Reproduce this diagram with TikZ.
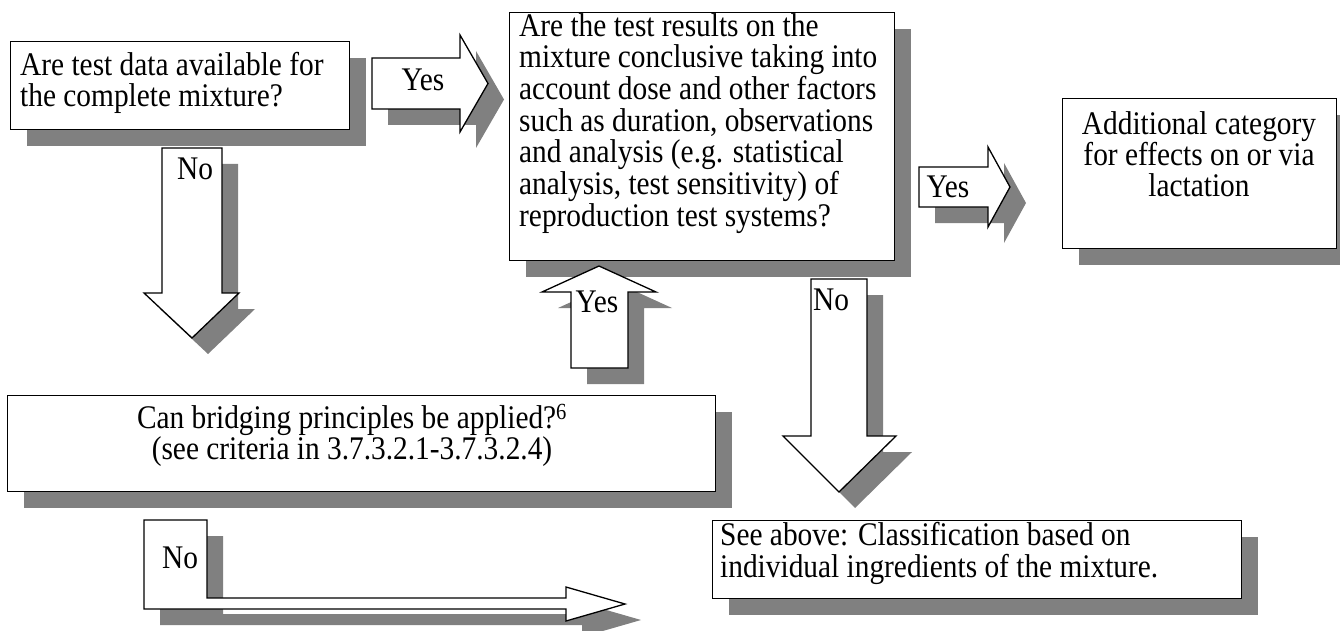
\documentclass[tikz,border=0pt]{standalone}
\usepackage{fontspec}
\setmainfont{Liberation Serif}[FakeStretch=0.89]
\usetikzlibrary{shadows}
\definecolor{shadowc}{RGB}{128,128,128}
\newcommand\blockarrow[1]{%
  \fill[bshadow] #1;
  \draw[barrow] #1;}
\begin{document}
\begin{tikzpicture}[x=1pt,y=-1pt,
  box/.style={draw=black, fill=white, line width=1.3pt, inner sep=0pt,
    anchor=north west,
    general shadow={fill=shadowc, shadow xshift=16pt, shadow yshift=-16pt}},
  txt/.style={inner sep=0pt, font=\fontsize{33}{#1}\selectfont,
    execute at begin node={\rule{0pt}{32pt}}},
  txt/.default=31.5,
  lbl/.style={inner sep=0pt, font=\fontsize{33}{31.5}\selectfont, anchor=base},
  barrow/.style={draw=black, fill=white, line width=1.3pt, line join=miter},
  bshadow/.style={fill=shadowc, draw=none, shift={(16,16)}}]
\useasboundingbox (0,0) rectangle (1340,631);

% boxes
\node[box, minimum width=339pt, minimum height=88pt] (q1) at (10,41) {};
\node[box, minimum width=385pt, minimum height=248pt] (q2) at (509,12) {};
\node[box, minimum width=274pt, minimum height=150pt] (q3) at (1062,98) {};
\node[box, minimum width=708pt, minimum height=96pt] (q4) at (7,395) {};
\node[box, minimum width=529pt, minimum height=78pt] (q5) at (712,520) {};

% box texts
\node[txt=31, anchor=north west, align=left] (q1t) at (20,52)
  {Are test data available for\\the complete mixture?};
\node[txt=31.7, anchor=north west, align=left] (q2t) at (519,13)
  {Are the test results on the\\mixture conclusive taking into\\account dose and other factors\\such as duration, observations\\and analysis (e.g. statistical\\analysis, test sensitivity) of\\reproduction test systems?};
\node[txt=31, anchor=north, align=center] (q3t) at (1199,111)
  {Additional category\\for effects on or via\\lactation};
\node[txt=31, anchor=north, align=center] (q4t) at (352,404)
  {Can bridging principles be applied?\textsuperscript{6}\\(see criteria in 3.7.3.2.1-3.7.3.2.4)};
\node[txt=32, anchor=north west, align=left] (q5t) at (720,522)
  {See above: Classification based on\\individual ingredients of the mixture.};

% block arrows (connectors)
\blockarrow{(372,58) -- (460,58) -- (460,35) -- (488,83.5) -- (460,132) -- (460,109) -- (372,109) -- cycle}
\blockarrow{(919,167) -- (988,167) -- (988,147) -- (1010,187) -- (988,227) -- (988,207) -- (919,207) -- cycle}
\blockarrow{(162,148) -- (222,148) -- (222,293) -- (239,293) -- (192,338) -- (144,293) -- (162,293) -- cycle}
\blockarrow{(571,368) -- (571,292) -- (542,292) -- (599,266) -- (656,292) -- (628,292) -- (628,368) -- cycle}
\blockarrow{(811,279) -- (867,279) -- (867,436) -- (896,436) -- (839,492) -- (783,436) -- (811,436) -- cycle}
\blockarrow{(144,520) -- (207,520) -- (207,598) -- (566,598) -- (566,587) -- (625,604) -- (566,621) -- (566,609) -- (144,609) -- cycle}

% arrow labels
\node[lbl] (y1) at (423,91) {Yes};
\node[lbl] (y2) at (948,197) {Yes};
\node[lbl] (y3) at (597,312) {Yes};
\node[lbl] (n1) at (195,180) {No};
\node[lbl] (n2) at (831,310) {No};
\node[lbl] (n3) at (180,568) {No};
\end{tikzpicture}
\end{document}
